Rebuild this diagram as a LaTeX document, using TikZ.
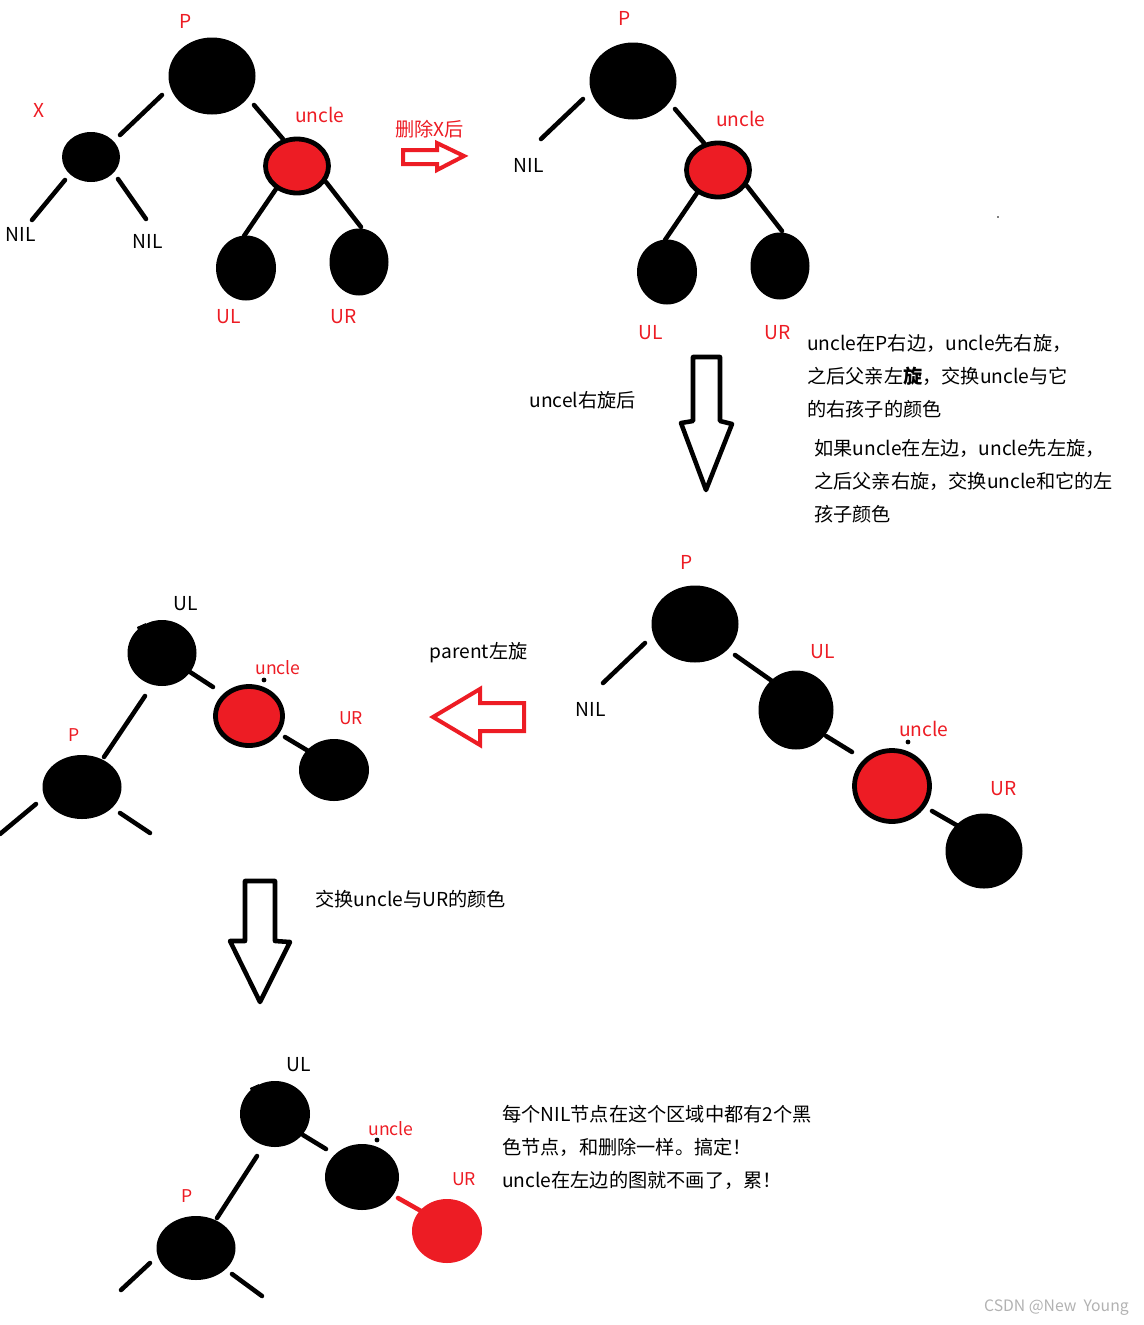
\documentclass[tikz,border=0pt]{standalone}
\usepackage{fontspec}
\setmainfont{Noto Sans CJK SC}
\usetikzlibrary{shapes.geometric}
\definecolor{pred}{HTML}{ED1C24}
\tikzset{
  blob/.style={ellipse,fill=black,inner sep=0pt,outer sep=0pt},
  redblob/.style={ellipse,fill=pred,inner sep=0pt,outer sep=0pt},
  ringblob/.style={ellipse,fill=pred,draw=black,line width=3.6pt,inner sep=0pt,outer sep=0pt},
  edgeline/.style={line width=3.4pt,line cap=round,draw=black},
  redline/.style={line width=3.4pt,line cap=round,draw=pred},
  lab/.style={font=\fontsize{14.4pt}{16pt}\selectfont,inner sep=0pt,text=black,yshift=-0.1pt,xshift=0.6pt},
  rlab/.style={lab,text=pred},
  slab/.style={font=\fontsize{13.2pt}{14pt}\selectfont,inner sep=0pt,text=pred},
  txt/.style={font=\fontsize{14.4pt}{16pt}\selectfont,inner sep=0pt,anchor=west,text=black,yshift=-0.3pt},
  hollowblack/.style={draw=black,fill=white,line width=3.4pt,line join=round},
  hollowred/.style={draw=pred,fill=white,line width=3pt,line join=miter},
  dotm/.style={circle,fill=black,inner sep=0pt,minimum size=3.6pt},
}
\newcommand{\elp}[5]{\node[#1,minimum width=#4*0.75pt,minimum height=#5*0.75pt] (#2) at (#3) {};}
\newcommand{\lnk}[4][edgeline]{\coordinate (#2a) at (#3); \coordinate (#2b) at (#4); \draw[#1] (#2a) -- (#2b);}
\begin{document}
\begin{tikzpicture}[x=0.75pt,y=-0.75pt]
\useasboundingbox (0,0) rectangle (1144,1325);
% tree 1
\elp{blob}{Pa}{212,76}{87}{77}
\elp{blob}{Xa}{91,157}{58}{50}
\elp{ringblob}{Ua}{297,166}{63}{54}
\elp{blob}{La}{246,268}{60}{65}
\elp{blob}{Ra}{359,262}{59}{67}
\lnk{ea1}{162,95}{120,135}
\lnk{ea2}{65,180}{32,220}
\lnk{ea3}{118,179}{146,219}
\lnk{ea4}{254,105}{283,139}
\lnk{ea5}{276,189}{244,236}
\lnk{ea6}{326,182}{361,227}
\node[rlab] (ta1) at (185,21) {P};
\node[rlab] (ta2) at (38,110) {X};
\node[rlab] (ta3) at (319,115) {uncle};
\node[lab] (ta4) at (20,234) {NIL};
\node[lab] (ta5) at (147,241) {NIL};
\node[rlab] (ta6) at (228,316) {UL};
\node[rlab] (ta7) at (343,316) {UR};
\node[rlab] (ta8) at (429,129) {删除X后};
\draw[hollowred] (403,150) -- (437,150) -- (437,143) -- (464,156) -- (437,170) -- (437,164) -- (403,164) -- cycle;
% tree 2
\elp{blob}{Pb}{633,81}{87}{77}
\elp{ringblob}{Ub}{718,170}{63}{54}
\elp{blob}{Lb}{667,272}{60}{65}
\elp{blob}{Rb}{780,266}{59}{67}
\lnk{eb1}{583,99}{541,139}
\lnk{eb2}{675,109}{704,143}
\lnk{eb3}{697,193}{665,240}
\lnk{eb4}{747,186}{782,231}
\node[rlab] (tb1) at (624,18) {P};
\node[rlab] (tb2) at (740,119) {uncle};
\node[lab] (tb3) at (528,165) {NIL};
\node[rlab] (tb4) at (650,332) {UL};
\node[rlab] (tb5) at (777,332) {UR};
\node[inner sep=0pt,minimum size=1pt,fill=black!50] (spk) at (998,217) {};
\draw[hollowblack] (693,357) -- (720,357) -- (720,421) -- (732,424) -- (706,490) -- (681,423) -- (693,421) -- cycle;
\node[lab] (tc0) at (582,400) {uncel右旋后};
\node[txt] (n1) at (807,343) {uncle在P右边，uncle先右旋，};
\node[txt] (n2) at (807,376) {之后父亲左{\bfseries 旋}，交换uncle与它};
\node[txt] (n3) at (807,409) {的右孩子的颜色};
\node[txt] (n4) at (814,448) {如果uncle在左边，uncle先左旋，};
\node[txt] (n5) at (814,481) {之后父亲右旋，交换uncle和它的左};
\node[txt] (n6) at (814,514) {孩子颜色};
% tree 3
\elp{blob}{Pc}{695,624}{87}{77}
\elp{blob}{Lc}{796,710}{75}{79}
\elp{ringblob}{Uc}{892,786}{75}{71}
\elp{blob}{Rc}{984,851}{77}{75}
\lnk{ec1}{645,643}{603,683}
\lnk{ec2}{735,655}{772,681}
\lnk{ec3}{826,736}{852,752}
\lnk{ec4}{932,811}{958,826}
\node[rlab] (tc1) at (686,562) {P};
\node[lab] (tc2) at (590,709) {NIL};
\node[rlab] (tc3) at (822,651) {UL};
\node[rlab] (tc4) at (923,729) {uncle};
\node[rlab] (tc5) at (1003,788) {UR};
\node[dotm] (dc) at (908,742) {};
\node[lab] (td0) at (478,652) {parent左旋};
\draw[hollowred] (433,717) -- (480,689) -- (480,703) -- (524,703) -- (524,731) -- (480,731) -- (480,745) -- cycle;
% tree 4
\elp{blob}{Ld}{162,653}{69}{66}
\fill[black] (137,627) -- (146,623) -- (140,636) -- cycle;
\elp{ringblob}{Ud}{249,716}{67}{59}
\elp{blob}{Rd}{334,770}{70}{62}
\elp{blob}{Pd}{82,787}{79}{64}
\lnk{ed1}{145,696}{104,757}
\lnk{ed2}{190,672}{213,687}
\lnk{ed3}{285,737}{310,752}
\lnk{ed4}{36,804}{0,834}
\lnk{ed5}{120,813}{150,833}
\node[lab] (td1) at (185,603) {UL};
\node[slab] (td2) at (278,668) {uncle};
\node[slab] (td3) at (351,718) {UR};
\node[slab] (td4) at (74,735) {P};
\node[dotm] (dd) at (264,680) {};
\draw[hollowblack] (245,881) -- (275,881) -- (275,941) -- (290,942) -- (260,1002) -- (230,941) -- (245,941) -- cycle;
\node[lab] (te0) at (410,899) {交换uncle与UR的颜色};
% tree 5
\elp{blob}{Le}{275,1114}{70}{66}
\fill[black] (250,1088) -- (259,1084) -- (253,1097) -- cycle;
\elp{blob}{Ue}{362,1177}{74}{66}
\elp{redblob}{Re}{447,1231}{70}{64}
\elp{blob}{Pe}{196,1248}{79}{64}
\lnk{ee1}{257,1156}{217,1218}
\lnk{ee2}{303,1135}{326,1149}
\lnk[redline]{ee3}{398,1198}{421,1211}
\lnk{ee4}{150,1263}{121,1290}
\lnk{ee5}{232,1274}{262,1296}
\node[lab] (te1) at (298,1064) {UL};
\node[slab] (te2) at (391,1129) {uncle};
\node[slab] (te3) at (464,1179) {UR};
\node[slab] (te4) at (187,1196) {P};
\node[dotm] (de) at (377,1140) {};
\node[txt] (m1) at (502,1114) {每个NIL节点在这个区域中都有2个黑};
\node[txt] (m2) at (502,1147) {色节点，和删除一样。搞定！};
\node[txt] (m3) at (502,1180) {uncle在左边的图就不画了，累！};
\node[font=\fontsize{11.8pt}{13pt}\selectfont,inner sep=0pt,anchor=east,text=black!30] (wm) at (1129,1308) {CSDN @New\ \ Young};
\end{tikzpicture}
\end{document}
